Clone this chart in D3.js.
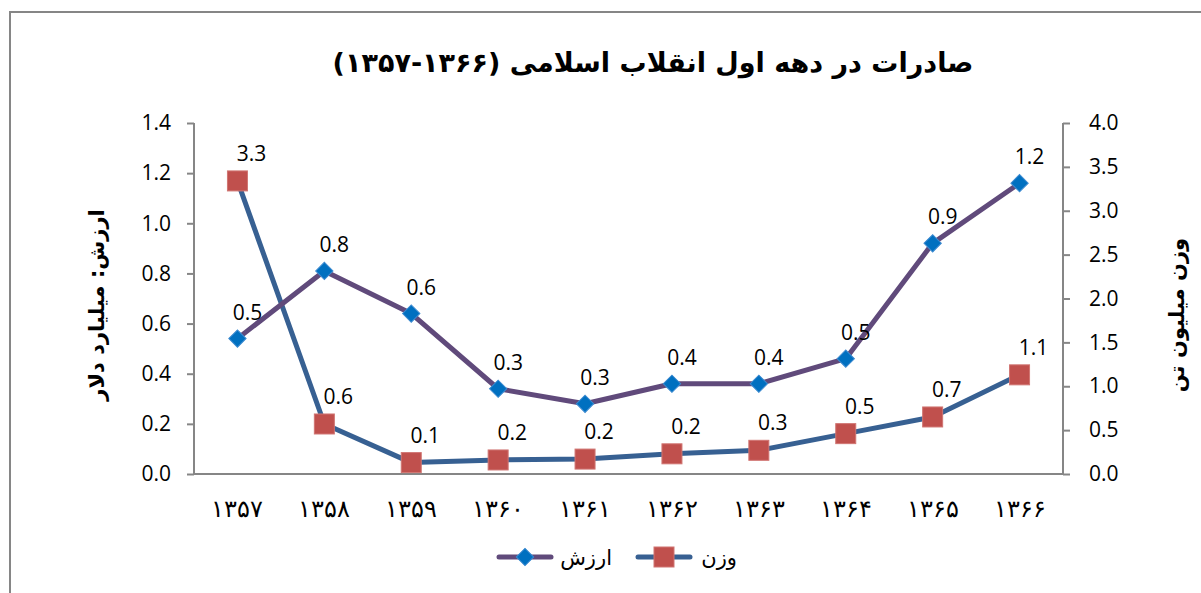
<!DOCTYPE html>
<meta charset="utf-8">
<script src="https://d3js.org/d3.v7.min.js"></script>
<style>
    body { margin: 0; background: #fff; }
    svg { display: block; }
</style>
<body>
<div id="my_dataviz"></div>
</body>
<script>
    // سال‌ها و داده‌ها
    const years = ["۱۳۵۷", "۱۳۵۸", "۱۳۵۹", "۱۳۶۰", "۱۳۶۱", "۱۳۶۲", "۱۳۶۳", "۱۳۶۴", "۱۳۶۵", "۱۳۶۶"];
    const valueSeries = [0.54, 0.81, 0.64, 0.34, 0.28, 0.36, 0.36, 0.46, 0.92, 1.16];   // ارزش، میلیارد دلار
    const weightSeries = [3.34, 0.57, 0.13, 0.16, 0.17, 0.23, 0.27, 0.46, 0.65, 1.13]; // وزن، میلیون تن
    const leftTicks = [0, 0.2, 0.4, 0.6, 0.8, 1.0, 1.2, 1.4];
    const rightTicks = [0, 0.5, 1.0, 1.5, 2.0, 2.5, 3.0, 3.5, 4.0];

    const titleText = "صادرات در دهه اول انقلاب اسلامی (۱۳۶۶-۱۳۵۷)";
    const leftTitle = "ارزش: میلیارد دلار";
    const rightTitle = "وزن میلیون تن";
    const valueName = "ارزش";
    const weightName = "وزن";

    let width = 1201, height = 593;
    let margin = {top: 123, right: 138, bottom: 119, left: 194};

    var svg = d3.select("#my_dataviz")
        .append("svg")
        .attr("width", width)
        .attr("height", height);

    // قاب بیرونی
    svg.append("rect")
        .attr("x", 10).attr("y", 12)
        .attr("width", width + 20).attr("height", height + 20)
        .style("fill", "none")
        .style("stroke", "#868686")
        .style("stroke-width", 2);

    var x = d3.scaleBand()
        .domain(years)
        .range([margin.left, width - margin.right]);
    var cx = function (d, i) { return x(years[i]) + x.bandwidth() / 2; };

    var yL = d3.scaleLinear().domain([0, 1.4]).range([height - margin.bottom, margin.top]);
    var yR = d3.scaleLinear().domain([0, 4]).range([height - margin.bottom, margin.top]);

    var numFont = "'Open Sans', 'Liberation Sans', sans-serif";
    var faFont = "'DejaVu Sans', sans-serif";

    // محور چپ
    var gL = svg.append("g")
        .attr("transform", "translate(" + margin.left + ",0)")
        .call(d3.axisLeft(yL).tickValues(leftTicks).tickFormat(d3.format(".1f")).tickSize(7).tickPadding(16));
    // محور راست
    var gR = svg.append("g")
        .attr("transform", "translate(" + (width - margin.right) + ",0)")
        .call(d3.axisRight(yR).tickValues(rightTicks).tickFormat(d3.format(".1f")).tickSize(7).tickPadding(19));
    [gL, gR].forEach(function (g) {
        g.select(".domain").style("stroke", "#868686").style("stroke-width", 2)
            .attr("d", "M0," + margin.top + "V" + (height - margin.bottom));
        g.selectAll(".tick line").style("stroke", "#868686").style("stroke-width", 2);
        g.selectAll(".tick text").style("font-family", numFont).style("font-size", "21px").style("fill", "#000");
    });

    // محور افقی
    var gX = svg.append("g")
        .attr("transform", "translate(0," + (height - margin.bottom) + ")")
        .call(d3.axisBottom(x).tickSize(0).tickPadding(26));
    gX.select(".domain").style("stroke", "#868686").style("stroke-width", 2)
        .attr("d", "M" + margin.left + ",0H" + (width - margin.right));
    gX.selectAll(".tick text").style("font-family", faFont).style("font-weight", "200")
        .style("font-size", "24px").style("fill", "#000");

    // عنوان محورها
    svg.append("text")
        .attr("transform", "translate(104,305) rotate(-90)")
        .attr("text-anchor", "middle")
        .attr("direction", "rtl")
        .style("font-family", faFont).style("font-weight", "bold").style("font-size", "21px")
        .text(leftTitle);
    svg.append("text")
        .attr("transform", "translate(1184,315) rotate(-90)")
        .attr("text-anchor", "middle")
        .attr("direction", "rtl")
        .style("font-family", faFont).style("font-weight", "bold").style("font-size", "21px")
        .text(rightTitle);

    // عنوان نمودار
    svg.append("text")
        .attr("x", 653).attr("y", 72)
        .attr("text-anchor", "middle")
        .attr("direction", "rtl")
        .style("font-family", faFont).style("font-weight", "bold").style("font-size", "27px")
        .text(titleText);

    var valColour = "#604A7B", valMarker = "#0070C0";
    var wtColour = "#376092", wtMarker = "#C0504D";

    // خط وزن
    svg.append("path")
        .datum(weightSeries)
        .attr("d", d3.line().x(cx).y(function (d) { return yR(d); }))
        .style("fill", "none").style("stroke", wtColour).style("stroke-width", 5).style("stroke-linejoin", "round");
    // خط ارزش
    svg.append("path")
        .datum(valueSeries)
        .attr("d", d3.line().x(cx).y(function (d) { return yL(d); }))
        .style("fill", "none").style("stroke", valColour).style("stroke-width", 5).style("stroke-linejoin", "round");

    var diamond = d3.symbol().type(d3.symbolSquare).size(150);
    svg.selectAll(".vmark")
        .data(valueSeries)
        .enter()
        .append("path")
        .attr("d", diamond)
        .attr("transform", function (d, i) { return "translate(" + cx(d, i) + "," + yL(d) + ") rotate(45)"; })
        .style("fill", valMarker).style("stroke", "#3C8AD0").style("stroke-width", 1);

    svg.selectAll(".wmark")
        .data(weightSeries)
        .enter()
        .append("rect")
        .attr("x", function (d, i) { return cx(d, i) - 10; })
        .attr("y", function (d) { return yR(d) - 10; })
        .attr("width", 20).attr("height", 20)
        .style("fill", wtMarker).style("stroke", "#D07572").style("stroke-width", 1);

    // برچسب داده‌ها
    var fmt = d3.format(".1f");
    svg.selectAll(".vlabel")
        .data(valueSeries)
        .enter()
        .append("text")
        .attr("x", function (d, i) { return cx(d, i) + 10; })
        .attr("y", function (d) { return yL(d) - 19; })
        .attr("text-anchor", "middle")
        .style("font-family", numFont).style("font-size", "21px")
        .text(function (d) { return fmt(d); });
    svg.selectAll(".wlabel")
        .data(weightSeries)
        .enter()
        .append("text")
        .attr("x", function (d, i) { return cx(d, i) + 14; })
        .attr("y", function (d) { return yR(d) - 20; })
        .attr("text-anchor", "middle")
        .style("font-family", numFont).style("font-size", "21px")
        .text(function (d) { return fmt(d); });

    // راهنما
    var leg = svg.append("g").attr("transform", "translate(0,557)");
    leg.append("line").attr("x1", 499).attr("x2", 551).attr("y1", 0).attr("y2", 0)
        .style("stroke", valColour).style("stroke-width", 5).style("stroke-linecap", "round");
    leg.append("path").attr("d", diamond).attr("transform", "translate(525,0) rotate(45)")
        .style("fill", valMarker).style("stroke", "#3C8AD0");
    leg.append("text").attr("x", 612).attr("y", 8).attr("text-anchor", "end")
        .style("font-family", faFont).style("font-size", "21px").text(valueName);
    leg.append("line").attr("x1", 638).attr("x2", 690).attr("y1", 0).attr("y2", 0)
        .style("stroke", wtColour).style("stroke-width", 5).style("stroke-linecap", "round");
    leg.append("rect").attr("x", 654).attr("y", -10).attr("width", 20).attr("height", 20)
        .style("fill", wtMarker).style("stroke", "#D07572");
    leg.append("text").attr("x", 737).attr("y", 8).attr("text-anchor", "end")
        .style("font-family", faFont).style("font-size", "21px").text(weightName);
</script>
